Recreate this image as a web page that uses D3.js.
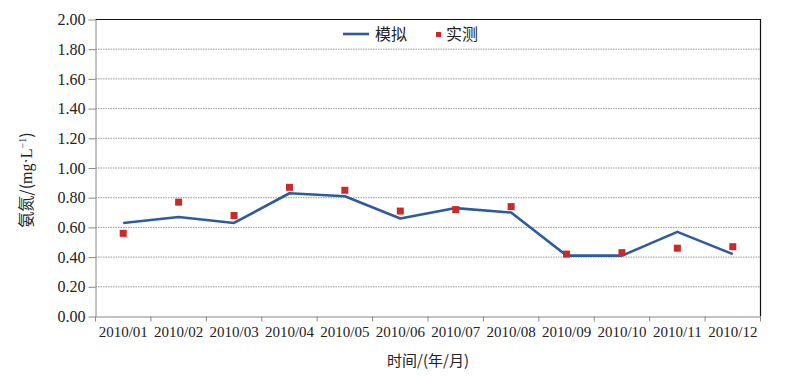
<!DOCTYPE html>
<html>
<head>
<meta charset="utf-8">
<script src="https://cdn.jsdelivr.net/npm/d3@7"></script>
<style>
  body { margin: 0; background: #fff; }
  svg text { fill: #222; }
</style>
</head>
<body>
<div id="chart"></div>
<script>
const months = ["2010/01", "2010/02", "2010/03", "2010/04", "2010/05", "2010/06",
                "2010/07", "2010/08", "2010/09", "2010/10", "2010/11", "2010/12"];
const simulated = [0.63, 0.67, 0.63, 0.83, 0.81, 0.66, 0.73, 0.70, 0.41, 0.41, 0.57, 0.42];
const measured = [0.56, 0.77, 0.68, 0.87, 0.85, 0.71, 0.72, 0.74, 0.42, 0.43, 0.46, 0.47];
const yTicks = [0, 0.2, 0.4, 0.6, 0.8, 1.0, 1.2, 1.4, 1.6, 1.8, 2.0];

let width = 792;
let height = 376;
let m = { left: 95.5, right: 31.5, top: 19.5, bottom: 59.5 };

let svg = d3.select("#chart").append("svg")
  .attr("width", width)
  .attr("height", height);

let x = d3.scaleBand().domain(months).range([m.left, width - m.right]);
let y = d3.scaleLinear().domain([0, 2]).range([height - m.bottom, m.top]);
let serif = "'Liberation Serif', 'DejaVu Serif', serif";
let cjk = "'Noto Sans CJK SC', sans-serif";

// grid
svg.append("g")
  .selectAll("line")
  .data(yTicks.slice(1, -1))
  .join("line")
  .attr("x1", m.left).attr("x2", width - m.right)
  .attr("y1", d => y(d)).attr("y2", d => y(d))
  .attr("stroke", "#999")
  .attr("stroke-width", 1)
  .attr("stroke-dasharray", "1.5,1");

// top + right frame
svg.append("path")
  .attr("d", `M${m.left},${y(2)}H${width - m.right}V${y(0)}`)
  .attr("fill", "none")
  .attr("stroke", "#111")
  .attr("stroke-width", 1.2);

// y axis
let yAxis = svg.append("g")
  .attr("transform", `translate(${m.left},0)`)
  .call(d3.axisLeft(y).tickValues(yTicks).tickFormat(d3.format(".2f")).tickSize(7).tickSizeOuter(0));
yAxis.select(".domain").attr("stroke", "#888");
yAxis.selectAll(".tick line").attr("stroke", "#888");
yAxis.selectAll("text")
  .attr("x", -10)
  .style("font-family", serif)
  .style("font-size", "16px")
  .attr("fill", "#222");

// x axis
let xAxis = svg.append("g")
  .attr("transform", `translate(0,${y(0)})`)
  .call(d3.axisBottom(x).tickSize(0).tickSizeOuter(0));
xAxis.select(".domain").attr("stroke", "#888");
xAxis.selectAll("text")
  .attr("dy", "1.15em")
  .style("font-family", serif)
  .style("font-size", "15px")
  .attr("fill", "#222");
// ticks between categories
svg.append("g")
  .selectAll("line")
  .data(months)
  .join("line")
  .attr("x1", d => x(d) + x.step())
  .attr("x2", d => x(d) + x.step())
  .attr("y1", y(0)).attr("y2", y(0) + 5)
  .attr("stroke", "#888");
svg.append("line")
  .attr("x1", m.left).attr("x2", m.left)
  .attr("y1", y(0)).attr("y2", y(0) + 5)
  .attr("stroke", "#888");

let cx = d => x(d) + x.bandwidth() / 2;

// simulated line
let line = d3.line()
  .x((d, i) => cx(months[i]))
  .y(d => y(d));
svg.append("path")
  .datum(simulated)
  .attr("d", line)
  .attr("fill", "none")
  .attr("stroke", "#2f5b9e")
  .attr("stroke-width", 2.6)
  .attr("stroke-linejoin", "round");

// measured points
svg.append("g")
  .selectAll("rect")
  .data(measured)
  .join("rect")
  .attr("x", (d, i) => cx(months[i]) - 3.5)
  .attr("y", d => y(d) - 3.5)
  .attr("width", 7)
  .attr("height", 7)
  .attr("fill", "#cc2a2a");

// legend
let lg = svg.append("g");
lg.append("line")
  .attr("x1", 343).attr("x2", 369)
  .attr("y1", 34).attr("y2", 34)
  .attr("stroke", "#2f5b9e").attr("stroke-width", 2.6);
lg.append("text")
  .attr("x", 375).attr("y", 40)
  .style("font-family", cjk).style("font-size", "16px")
  .text("模拟");
lg.append("rect")
  .attr("x", 436).attr("y", 32)
  .attr("width", 5).attr("height", 5)
  .attr("fill", "#cc2a2a");
lg.append("text")
  .attr("x", 446).attr("y", 40)
  .style("font-family", cjk).style("font-size", "16px")
  .text("实测");

// axis titles
svg.append("text")
  .attr("x", (m.left + width - m.right) / 2)
  .attr("y", 366)
  .attr("text-anchor", "middle")
  .style("font-family", cjk)
  .style("font-size", "15px")
  .text("时间/(年/月)");

let yt = svg.append("text")
  .attr("transform", "translate(32,180) rotate(-90)")
  .attr("text-anchor", "middle")
  .style("font-size", "16px");
yt.append("tspan").style("font-family", cjk).text("氨氮/(");
yt.append("tspan").style("font-family", serif).text("mg·L");
yt.append("tspan").style("font-family", serif).style("font-size", "10px").attr("dy", -6).text("−1");
yt.append("tspan").style("font-family", cjk).attr("dy", 6).text(")");
</script>
</body>
</html>
